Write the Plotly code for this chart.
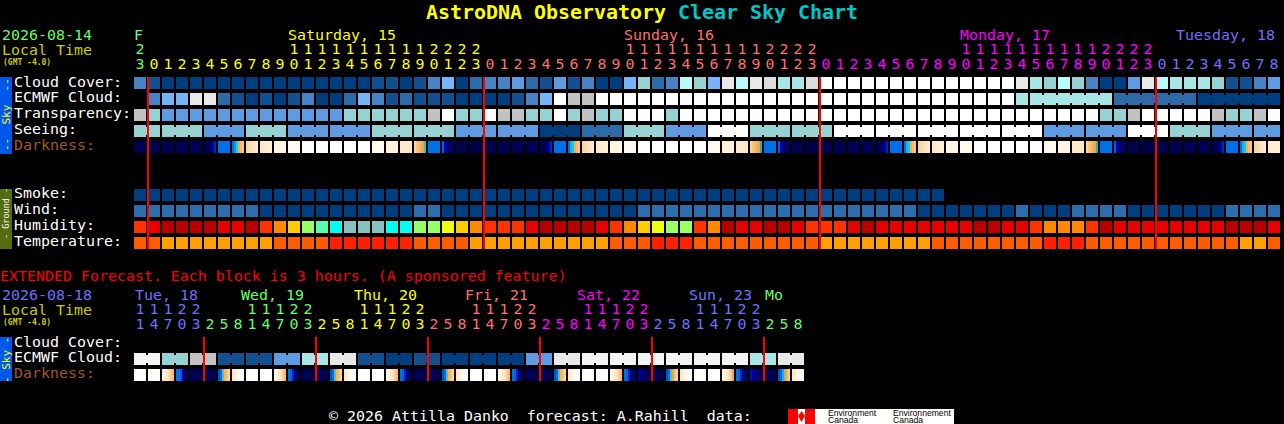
#!/usr/bin/python3
import plotly.graph_objects as go

W=1284
H=424
MONO="DejaVu Sans Mono"

# cloud style scale: 0 clear (dark blue) .. 13 overcast (white)
CLOUD_COLORS=["#003f7f","#13508f","#2c6aa8","#4682c4","#5e9be0","#76b4f8","#96d2d2",
              "#a8e6e6","#b8fafa","#c2c2c2","#dcdcdc","#e8e8e8","#f4f4f4","#ffffff"]
WIND_COLORS=["#003f7f","#2c6dad"]
HUMID_COLORS=["#b80000","#e60000","#ff3300","#ff8800","#ffcc00","#eeff11","#99ff66","#55ffaa","#00ffee","#88c0c0"]
TEMP_COLORS=["#ffa000","#ff5c00","#ff2000"]
DARK_SCALE=[[0,"#ffffff"],[0.08,"#fffaf0"],[0.16,"#fff0dc"],[0.24,"#ffe4c0"],[0.32,"#ffd090"],[0.40,"#ffb050"],
            [0.46,"#c8a860"],[0.50,"#20c8e0"],[0.58,"#0070e8"],[0.66,"#0050d0"],[0.74,"#0000a0"],[0.82,"#00006a"],
            [0.90,"#000054"],[1,"#000040"]]

FRI="#66ff66"
SAT="#ffff00"
SUN="#ff7070"
MON="#ff00ff"
TUE="#7070ff"

cloud_cover=[3,1,0,0,0,0,0,0,0,0,0,0,0,0,0,0,0,1,1,0,1,3,5,0,2,3,3,4,2,1,4,1,3,0,0,5,6,2,3,8,6,5,11,8,11,10,7,7,10,
             13,13,13,13,13,13,13,13,13,13,13,13,13,13,11,7,6,8,6,3,0,0,4,11,8,7,7,7,6,1,1,3,4]
ecmwf_cloud=[None,3,5,5,11,11,2,1,0,1,0,1,3,0,0,2,5,3,1,2,1,1,1,0,0,0,0,1,3,5,13,9,9,
             13,13,13,13,13,13,13,13,13,13,13,13,13,13,13,13,13,13,13,13,13,13,13,13,13,13,13,13,13,13,
             7,7,7,7,7,7,7,2,2,2,2,2,2,0,0,0,0,0,0]
transparency=[9,6,4,4,4,4,4,4,4,4,4,4,4,4,4,6,6,6,6,6,6,9,13,6,6,13,9,9,6,6,13,6,9,6,6,13,13,13,6,
              13,13,13,13,13,13,13,13,13,13,13,13,13,13,13,13,13,13,13,13,13,13,13,13,13,13,13,13,13,13,
              6,6,9,13,13,13,13,13,9,6,6,9,13]
seeing=[6,6,6,6,6,4,4,4,6,6,6,4,4,4,4,4,4,6,6,6,6,6,6,4,4,4,4,4,4,0,0,0,2,2,2,6,6,6,4,4,4,13,13,13,6,6,6,6,6,6,
        13,13,13,13,13,13,13,13,13,13,13,13,13,13,13,4,4,4,4,4,4,13,13,13,6,6,6,4,4,4,4,4]
# cell index pairs of the blocks that are joined up in each row
seeing_blocks=[(0,1),(2,4),(5,7),(8,10),(11,13),(14,16),(17,19),(20,22),(23,25),(26,28),(29,31),(32,34),(35,37),
               (38,40),(41,43),(44,46),(47,49),(50,52),(53,55),(56,58),(59,61),(62,64),(65,67),(68,70),(71,73),
               (74,76),(77,79),(80,81)]
ecmwf_blocks=[(64,69),(70,75),(76,81)]
# darkness: a plain number for a flat hour, six numbers where the hour changes (dusk, dawn)
darkness=[92,96,94,91,90,[90,90,88,82,76,70],58,[58,54,50,42,38,34],[30,28,26,24,22,20],[22,20,20,18,18,16],14,8,
          0,0,0,0,0,8,16,22,[30,34,38,40,44,50],58,[62,74,78,82,86,88],94,96,
          94,92,90,90,[90,90,88,82,76,70],58,[58,52,50,42,38,34],[30,28,26,24,22,20],[22,20,20,18,18,16],14,8,
          0,0,0,0,0,8,16,22,[30,34,38,40,44,52],58,[62,74,78,82,86,88],94,96,
          94,92,90,90,[90,90,88,82,76,70],58,[58,52,50,42,38,34],[30,28,26,24,22,20],[22,20,20,18,18,16],14,8,
          0,0,0,0,0,8,14,22,[30,34,38,40,44,52],58,[62,74,78,82,86,88],94,96,
          94,92,90,90,[90,90,88,82,76,70],58,[58,52,50,42,38,34],[30,28,26,24,22,20],18]

smoke=[0]*58+[None]*24
wind=[1,1,1,1,1,1,1,1,1,0,0,0,0,0,0,0,0,0,0,0,1,1,0,0,0,0,0,0,0,0,0,0,0,0,0,0,
      1,1,1,1,1,1,1,1,1,1,1,1,1,1,1,1,1,1,1,1,0,0,0,0,0,0,0,1,0,0,0,1,1,1,1,0,0,0,0,0,0,0,1,1,1,1]
humidity=[2,1,0,0,0,0,1,1,0,2,3,4,6,7,8,9,9,9,8,8,6,6,5,4,3,2,2,2,1,0,0,0,0,1,2,3,4,5,6,6,2,3,0,1,1,0,0,1,2,2,2,
          1,0,1,1,1,1,1,1,1,0,0,1,1,2,3,3,3,2,0,1,1,1,1,1,1,1,1,0,0,0,1]
temperature=[1,1,0,0,0,0,0,0,0,0,1,1,1,1,2,2,2,2,2,2,1,1,1,1,0,0,0,0,0,0,0,0,0,0,1,1,1,2,2,2,1,1,1,1,1,1,1,1,1,
             0,0,0,0,0,0,0,0,1,1,1,1,1,1,1,1,2,2,2,1,1,1,1,1,1,1,1,1,1,1,0,0,1]

hours=[23,0,1,2,3,4,5,6,7,8,9,10,11,12,13,14,15,16,17,18,19,20,21,22,23,
       0,1,2,3,4,5,6,7,8,9,10,11,12,13,14,15,16,17,18,19,20,21,22,23,
       0,1,2,3,4,5,6,7,8,9,10,11,12,13,14,15,16,17,18,19,20,21,22,23,
       0,1,2,3,4,5,6,7,8]
hour_colors=[FRI]+[SAT]*24+[SUN]*24+[MON]*24+[TUE]*9
midnights=[0.57,24.57,48.57,72.57]

# extended forecast: one value per 3 hour block (two cells wide)
ext_ecmwf=[12,6,9,1,1,4,7,11,1,0,1,0,0,0,4,11,12,12,12,12,12,12,7,11]
ext_darkness=[0,4,[14,18,22,28,34,38],[58,58,62,74,82,86],92,92,[66,58,48,40,36,30],[22,18,14,10,8,6],
              0,2,[10,14,20,26,32,38],[58,60,70,78,84,88],92,92,[66,58,48,40,36,30],[22,18,14,10,8,6],
              0,2,[10,14,20,26,32,38],[58,60,70,78,84,88],92,92,[66,58,48,40,36,30],[22,18,14,10,8,6],
              0,2,[10,14,20,26,32,38],[58,60,70,78,84,88],92,92,[66,58,48,40,36,30],[22,18,14,10,8,6],
              0,2,[10,14,20,26,32,38],[58,60,70,78,84,88],[74,78,82,86,90,90],92,[66,58,48,44,36,30],[22,18,14,10,8,6],
              0,2,[10,14,20,26,34,44],[58,60,70,78,84,88],[72,74,78,82,86,88],92,[66,58,52,46,40,30],[20,18,14,12,10,8]]
ext_hours=[11,14,17,20,23,2,5,8,11,14,17,20,23,2,5,8,11,14,17,20,23,2,5,8,11,14,17,20,23,
           2,5,8,11,14,17,20,23,2,5,8,11,14,17,20,23,2,5,8]
ext_colors=[TUE]*5+[FRI]*8+[SAT]*8+[SUN]*8+[MON]*8+[TUE]*8+[FRI]*3
ext_midnights=[4.57,12.57,20.57,28.57,36.57,44.57]

# rows are in units of 16px, row 0 is cloud cover
ROW_CLOUD=0
ROW_ECMWF=1
ROW_TRANS=2
ROW_SEEING=3
ROW_DARK=4
ROW_SMOKE=7
ROW_WIND=8
ROW_HUMID=9
ROW_TEMP=10
ROW_EXT_ECMWF=17.25
ROW_EXT_DARK=18.25

def scale(colors):
	return [[k/(len(colors)-1),c] for k,c in enumerate(colors)]

fig=go.Figure()

def add_row(vals,row,colors):
	fig.add_trace(go.Heatmap(x=list(range(len(vals))),y=[row],z=[vals],colorscale=scale(colors),zmin=0,zmax=len(colors)-1,
	                         xgap=2,ygap=4,showscale=False,hoverinfo="skip"))

def add_bridges(vals,blocks,row,colors):
	xs=[]
	zs=[]
	for a,b in blocks:
		for i in range(a,b):
			xs.append(i+0.5)
			zs.append(vals[i])
	# one heatmap per run, x gaps break an even grid
	for x,z in zip(xs,zs):
		fig.add_trace(go.Heatmap(x=[x],y=[row],z=[[z]],dx=1,colorscale=scale(colors),zmin=0,zmax=len(colors)-1,
		                         xgap=10,ygap=8,showscale=False,hoverinfo="skip"))

def add_dark(vals,row):
	z=[]
	for v in vals:
		if isinstance(v,list):
			z+=v
		else:
			z+=[v]*6
		z.append(None)
	fig.add_trace(go.Heatmap(x0=-5/14,dx=1/7,y=[row],z=[z],colorscale=DARK_SCALE,zmin=0,zmax=100,
	                         ygap=4,showscale=False,hoverinfo="skip"))

def add_digits(xs,row,txt,cols):
	fig.add_trace(go.Scatter(x=xs,y=[row]*len(xs),mode="text",text=txt,textposition="middle center",
	                         textfont=dict(family=MONO,size=14.95,color=cols),hoverinfo="skip",showlegend=False))

add_row(cloud_cover,ROW_CLOUD,CLOUD_COLORS)
add_row(ecmwf_cloud,ROW_ECMWF,CLOUD_COLORS)
add_bridges(ecmwf_cloud,ecmwf_blocks,ROW_ECMWF,CLOUD_COLORS)
add_row(transparency,ROW_TRANS,CLOUD_COLORS)
add_row(seeing,ROW_SEEING,CLOUD_COLORS)
add_bridges(seeing,seeing_blocks,ROW_SEEING,CLOUD_COLORS)
add_dark(darkness,ROW_DARK)
add_row(smoke,ROW_SMOKE,WIND_COLORS)
add_row(wind,ROW_WIND,WIND_COLORS)
add_row(humidity,ROW_HUMID,HUMID_COLORS)
add_row(temperature,ROW_TEMP,TEMP_COLORS)

# the extended rows: each block covers two cells
ext_cells=[]
for v in ext_ecmwf:
	ext_cells+=[v,v]
add_row(ext_cells,ROW_EXT_ECMWF,CLOUD_COLORS)
add_bridges(ext_cells,[(2*k,2*k+1) for k in range(len(ext_ecmwf))],ROW_EXT_ECMWF,CLOUD_COLORS)
add_dark(ext_darkness,ROW_EXT_DARK)

# midnight lines
lx=[]
ly=[]
for m in midnights:
	lx+=[m,m,None]
	ly+=[ROW_CLOUD-0.375,ROW_TEMP+0.375,None]
for m in ext_midnights:
	lx+=[m,m,None]
	ly+=[ROW_EXT_ECMWF-1.375,ROW_EXT_DARK+0.375,None]
fig.add_trace(go.Scatter(x=lx,y=ly,mode="lines",line=dict(color="#ff0000",width=2),hoverinfo="skip",showlegend=False))

# hour digits, tens only where the hour has two of them
ROW_TENS=(50-83)/16
ROW_ONES=(65-83)/16
add_digits(list(range(len(hours))),ROW_ONES,[str(h%10) for h in hours],hour_colors)
tens=[i for i,h in enumerate(hours) if h>=10]
add_digits(tens,ROW_TENS,[str(hours[i]//10) for i in tens],[hour_colors[i] for i in tens])
ROW_EXT_TENS=(310-83)/16
ROW_EXT_ONES=(325-83)/16
add_digits(list(range(len(ext_hours))),ROW_EXT_ONES,[str(h%10) for h in ext_hours],ext_colors)
tens=[i for i,h in enumerate(ext_hours) if h>=10]
add_digits(tens,ROW_EXT_TENS,[str(ext_hours[i]//10) for i in tens],[ext_colors[i] for i in tens])

def label(x,y,text,color="#ffffff",size=14.95,bold=False,family=MONO,angle=0,anchor="left"):
	if bold:
		text="<b>"+text+"</b>"
	fig.add_annotation(xref="paper",yref="paper",x=x/W,y=1-y/H,text=text,showarrow=False,xanchor=anchor,yanchor="middle",
	                   borderpad=0,borderwidth=0,textangle=angle,font=dict(family=family,size=size,color=color))

label(426,12,"AstroDNA Observatory",SAT,19.95,True)
label(678,12,"Clear Sky Chart","#00c8c8",19.95,True)

row_names=[("Cloud Cover:",81.7,"#ffffff"),("ECMWF Cloud:",97.3,"#ffffff"),("Transparency:",113.3,"#ffffff"),("Seeing:",129.3,"#ffffff"),
           ("Darkness:",145.3,"#a0582c"),("Smoke:",193.3,"#ffffff"),("Wind:",209.3,"#ffffff"),("Humidity:",225.3,"#ffffff"),
           ("Temperature:",241.3,"#ffffff"),("Cloud Cover:",341.7,"#ffffff"),("ECMWF Cloud:",357.3,"#ffffff"),("Darkness:",373.3,"#a0582c")]
for name,y,col in row_names:
	label(14,y,name,col)

label(2,35,"2026-08-14",FRI)
label(2,50,"Local Time","#cccc00")
label(3,62,"(GMT -4.0)","#cccc00",8,True)
for name,x,col in [("F",134,FRI),("Saturday, 15",288,SAT),("Sunday, 16",624,SUN),("Monday, 17",960,MON),("Tuesday, 18",1176,TUE)]:
	label(x,35,name,col)

label(0,276,"EXTENDED Forecast. Each block is 3 hours. (A sponsored feature)","#ff0000")
label(2,295,"2026-08-18",TUE)
label(2,310,"Local Time","#cccc00")
label(3,322,"(GMT -4.0)","#cccc00",8,True)
for name,x,col in [("Tue, 18",135,TUE),("Wed, 19",241,FRI),("Thu, 20",354,SAT),("Fri, 21",465,SUN),("Sat, 22",577,MON),("Sun, 23",689,TUE),("Mo",765,FRI)]:
	label(x,295,name,col)

label(329,416,"© 2026 Attilla Danko  forecast: A.Rahill  data:")

# side bars
shapes=[]
def box(x0,y0,x1,y1,color):
	shapes.append(dict(type="rect",xref="paper",yref="paper",x0=x0/W,x1=x1/W,y0=1-y0/H,y1=1-y1/H,fillcolor=color,line=dict(width=0),layer="below"))
box(0,77,12,154,"#0058e8")
box(0,189,12,249,"#556b10")
box(0,337,12,381,"#0058e8")
label(6,115,"--  Sky  --","#ffff00",11,False,MONO,-90,"center")
label(6,214,"- Ground -","#ffffff",8.5,False,MONO,-90,"center")
label(6,360,"- Sky -","#ffff00",11,False,MONO,-90,"center")

# logo in the footer
box(788,409,954,424,"#ffffff")
box(788,409,798,424,"#ff0000")
box(805,409,815,424,"#ff0000")
shapes.append(dict(type="path",xref="paper",yref="paper",layer="above",fillcolor="#ff0000",line=dict(width=0),
	path="M %f %f L %f %f L %f %f L %f %f Z"%(801.5/W,1-411/H,805/W,1-416/H,801.5/W,1-422/H,798/W,1-416/H)))
label(828,412.5,"Environment","#000000",8.6,False,"Liberation Sans")
label(828,420,"Canada","#000000",8.6,False,"Liberation Sans")
label(893,412.5,"Environnement","#000000",8.6,False,"Liberation Sans")
label(893,420,"Canada","#000000",8.6,False,"Liberation Sans")

fig.update_layout(width=W,height=H,margin=dict(l=0,r=0,t=0,b=0),paper_bgcolor="black",plot_bgcolor="black",showlegend=False,shapes=shapes,
                  xaxis=dict(range=[-140/14,(W-140)/14],visible=False,fixedrange=True),
                  yaxis=dict(range=[(H-83)/16,-83/16],visible=False,fixedrange=True))
fig.write_html("out.html",config=dict(displayModeBar=False),post_script="document.body.style.margin='0';document.body.style.background='black';")
